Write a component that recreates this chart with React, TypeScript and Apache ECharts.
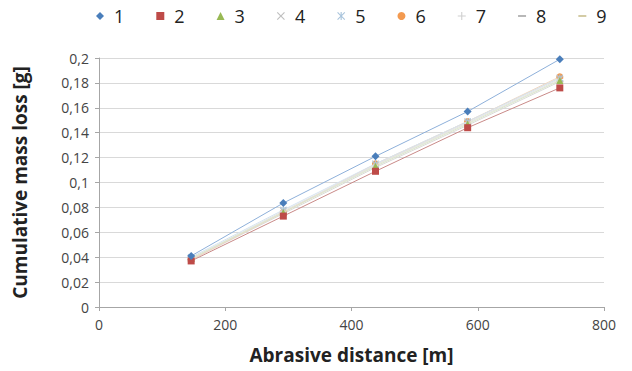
import React, { useEffect, useRef } from "react";
import * as echarts from "echarts";

const distances = [146, 292, 438, 584, 730];
const seriesNames = ["1", "2", "3", "4", "5", "6", "7", "8", "9"];
const s1 = [0.041, 0.0835, 0.121, 0.157, 0.199];
const s2 = [0.037, 0.073, 0.109, 0.144, 0.176];
const s3 = [0.039, 0.076, 0.113, 0.147, 0.182];
const s4 = [0.039, 0.077, 0.114, 0.148, 0.183];
const s5 = [0.04, 0.078, 0.115, 0.149, 0.184];
const s6 = [0.038, 0.076, 0.115, 0.149, 0.185];
const s7 = [0.039, 0.077, 0.113, 0.148, 0.182];
const s8 = [0.038, 0.075, 0.112, 0.146, 0.181];
const s9 = [0.038, 0.076, 0.114, 0.149, 0.184];
const allSeries = [s1, s2, s3, s4, s5, s6, s7, s8, s9];
const xTicks = [0, 200, 400, 600, 800];
const yTicks = [0, 0.02, 0.04, 0.06, 0.08, 0.1, 0.12, 0.14, 0.16, 0.18, 0.2];

const colors = ["#4A7EBB", "#BE4B48", "#98B954", "#BFBFBF", "#A9C4DC", "#F39A50", "#D0D0D0", "#A6A6A6", "#C9BF8F"];
const lineColors = ["#8EB0DA", "#C98A88", "#DCE8CC", "#E4E4E4", "#D6E4F0", "#F0D6C0", "#EBEBEB", "#DADADA", "#E6E0C8"];

const X_PATH = "path://M0,1 L1,0 L5,4 L9,0 L10,1 L6,5 L10,9 L9,10 L5,6 L1,10 L0,9 L4,5 Z";
const AST_PATH = "path://M0,1 L1,0 L4.3,3.3 L4.3,0 L5.7,0 L5.7,3.3 L9,0 L10,1 L6,5 L10,9 L9,10 L5.7,6.7 L5.7,10 L4.3,10 L4.3,6.7 L1,10 L0,9 L4,5 Z";
const PLUS_PATH = "path://M4.3,0 H5.7 V4.3 H10 V5.7 H5.7 V10 H4.3 V5.7 H0 V4.3 H4.3 Z";
const DASH_PATH = "path://M0,4 H10 V6 H0 Z";

const symbols = ["diamond", "rect", "triangle", X_PATH, AST_PATH, "circle", PLUS_PATH, DASH_PATH, DASH_PATH];
const symbolSizes = [8, 7, 7, 7, 7, 7, 7, 7, 7];

export default function App() {
  const ref = useRef<HTMLDivElement>(null);
  useEffect(() => {
    if (!ref.current) return;
    const chart = echarts.init(ref.current, undefined, { renderer: "svg" });
    const fmt = (v: number) => String(v).replace(".", ",");
    chart.setOption({
      animation: false,
      backgroundColor: "#ffffff",
      textStyle: { fontFamily: "Open Sans, Liberation Sans, sans-serif" },
      legend: {
        top: 2,
        left: 91,
        right: 0,
        itemGap: 32,
        itemWidth: 8,
        itemHeight: 8,
        textStyle: { fontSize: 18, color: "#222", padding: [0, 0, 0, 5] },
        data: seriesNames.map((n, i) => ({ name: n, icon: symbols[i] })),
      },
      grid: { left: 99, right: 28, top: 58, bottom: 64, containLabel: false },
      xAxis: {
        type: "value",
        min: 0,
        max: 800,
        interval: 200,
        name: "Abrasive distance [m]",
        nameLocation: "middle",
        nameGap: 38,
        nameTextStyle: { fontSize: 19, fontWeight: "bold", color: "#222" },
        axisLine: { show: true, lineStyle: { color: "#A6A6A6" } },
        axisTick: { show: true, length: 4, lineStyle: { color: "#A6A6A6" } },
        axisLabel: { fontSize: 14, color: "#444", margin: 10, formatter: (v: number) => (xTicks.includes(v) ? String(v) : "") },
        splitLine: { show: false },
      },
      yAxis: {
        type: "value",
        min: 0,
        max: 0.2,
        interval: 0.02,
        name: "Cumulative mass loss [g]",
        nameLocation: "middle",
        nameGap: 70,
        nameTextStyle: { fontSize: 19, fontWeight: "bold", color: "#222" },
        axisLine: { show: true, lineStyle: { color: "#A6A6A6" } },
        axisTick: { show: true, length: 4, lineStyle: { color: "#A6A6A6" } },
        axisLabel: {
          fontSize: 14,
          color: "#444",
          margin: 10,
          formatter: (v: number) => {
            const t = yTicks.find((y) => Math.abs(y - v) < 1e-9);
            return t === undefined ? "" : fmt(Math.round(t * 100) / 100);
          },
        },
        splitLine: { show: true, lineStyle: { color: "#D9D9D9" } },
      },
      series: allSeries.map((vals, i) => ({
        name: seriesNames[i],
        type: "line",
        data: vals.map((v, j) => [distances[j], v]),
        symbol: symbols[i],
        symbolSize: symbolSizes[i],
        symbolKeepAspect: true,
        itemStyle: { color: colors[i] },
        lineStyle: { color: lineColors[i], width: 1 },
        z: 10 - i,
      })).reverse(),
    });
    return () => chart.dispose();
  }, []);
  return <div ref={ref} style={{ position: "fixed", left: 0, top: 0, width: 632, height: 371 }} />;
}
